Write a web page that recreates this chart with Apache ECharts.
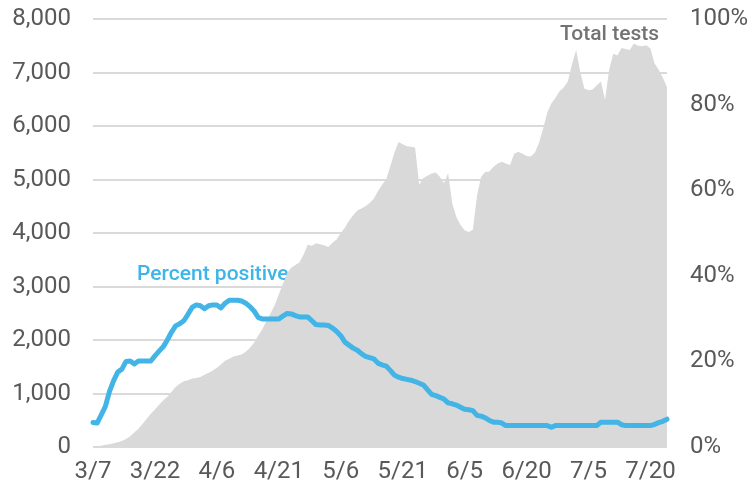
<!DOCTYPE html>
<html>
<head>
<meta charset="utf-8">
<script src="https://cdn.jsdelivr.net/npm/echarts@6/dist/echarts.min.js"></script>
<style>
html,body{margin:0;padding:0;background:#fff;}
#chart{width:751px;height:486px;}
</style>
</head>
<body>
<div id="chart"></div>
<script>
// Daily categories 3/7 .. 7/24
const startMonth = 3, startDay = 7, nDays = 140;
const monthLen = {3:31,4:30,5:31,6:30,7:31};
const dates = [];
(function(){ let m=startMonth, d=startDay; for(let i=0;i<nDays;i++){ dates.push(m+'/'+d); d++; if(d>monthLen[m]){d=1;m++;} } })();

const totalTests = [
  10,15,25,40,50,70,90,110,150,200,
  270,340,430,530,620,700,790,870,940,1030,
  1120,1180,1230,1250,1280,1290,1310,1350,1390,1430,
  1480,1540,1610,1650,1690,1710,1730,1780,1850,1950,
  2080,2200,2350,2500,2650,2850,3050,3250,3350,3400,
  3450,3600,3780,3760,3810,3790,3770,3740,3820,3880,
  4000,4100,4230,4330,4420,4460,4500,4560,4640,4780,
  4900,5000,5250,5500,5700,5660,5620,5610,5600,4900,
  5030,5070,5110,5130,5050,4930,5120,4550,4300,4150,
  4050,4020,4060,4700,5050,5140,5150,5240,5300,5330,
  5300,5270,5480,5520,5480,5440,5430,5500,5680,5950,
  6250,6420,6530,6650,6720,6830,7150,7420,7010,6700,
  6670,6680,6760,6830,6490,7050,7350,7320,7460,7440,
  7420,7540,7500,7490,7510,7450,7170,7050,6900,6730
];

const percentPositive = [
  5.7,5.6,7.5,9.5,13,15.5,17.5,18.2,20,20.1,
  19.4,20.1,20.1,20.1,20.1,21.3,22.4,23.4,25,26.8,
  28.3,28.8,29.5,31,32.6,33.2,33,32.3,33,33.2,
  33.2,32.5,33.6,34.3,34.3,34.3,34.1,33.6,32.8,31.8,
  30.3,29.9,29.9,29.9,29.9,29.9,30.6,31.2,31.1,30.7,
  30.4,30.4,30.4,29.5,28.6,28.5,28.5,28.4,27.8,27,
  26,24.5,23.8,23.1,22.6,21.8,21.2,20.9,20.6,19.6,
  19.2,18.9,17.9,16.8,16.3,16,15.8,15.6,15.3,14.9,
  14.5,13.4,12.3,12,11.6,11.2,10.3,10.1,9.8,9.3,
  8.8,8.7,8.5,7.4,7.2,6.8,6.2,5.8,5.8,5.6,
  5,5,5,5,5,5,5,5,5,5,
  5,4.6,5,5,5,5,5,5,5,5,
  5,5,5,5.8,5.8,5.8,5.8,5.8,5.2,5,
  5,5,5,5,5,5,5.3,5.7,6,6.5
];

const leftTicks = {min:0, max:8000, interval:1000};
const rightTicks = {min:0, max:100, interval:20};

const labelColor = '#595959';
const chart = echarts.init(document.getElementById('chart'), null, {renderer:'canvas'});
chart.setOption({
  animation:false,
  backgroundColor:'#ffffff',
  textStyle:{fontFamily:'Roboto'},
  grid:{left:93,right:79,top:19,bottom:39,containLabel:false},
  xAxis:{
    type:'category', data:dates, boundaryGap:false,
    axisLine:{show:false}, axisTick:{show:false},
    axisLabel:{interval:14, color:labelColor, fontSize:24, fontFamily:'Roboto', margin:13}
  },
  yAxis:[
    {type:'value', min:leftTicks.min, max:leftTicks.max, interval:leftTicks.interval,
     axisLine:{show:false}, axisTick:{show:false},
     splitLine:{lineStyle:{color:'#dadada', width:2}},
     axisLabel:{color:labelColor, fontSize:24, fontFamily:'Roboto', margin:22,
       formatter:v=>v.toLocaleString('en-US')}},
    {type:'value', position:'right', min:rightTicks.min, max:rightTicks.max, interval:rightTicks.interval,
     axisLine:{show:false}, axisTick:{show:false}, splitLine:{show:false},
     axisLabel:{color:labelColor, fontSize:24, fontFamily:'Roboto', margin:23, formatter:'{value}%'}}
  ],
  series:[
    {type:'line', name:'Total tests', yAxisIndex:0, data:totalTests, showSymbol:false, symbol:'none',
     lineStyle:{width:0}, areaStyle:{color:'#d9d9d9', opacity:1}, z:2},
    {type:'line', name:'Percent positive', yAxisIndex:1, data:percentPositive, showSymbol:false, symbol:'none',
     lineStyle:{width:5, color:'#42b4e6', cap:'round', join:'round'}, z:3}
  ],
  graphic:[
    {type:'text', left:137, top:264, style:{text:'Percent positive', fill:'#3db5e9', font:'500 21px Roboto'}},
    {type:'text', left:560, top:24, style:{text:'Total tests', fill:'#737373', font:'500 21px Roboto'}}
  ]
});
</script>
</body>
</html>
